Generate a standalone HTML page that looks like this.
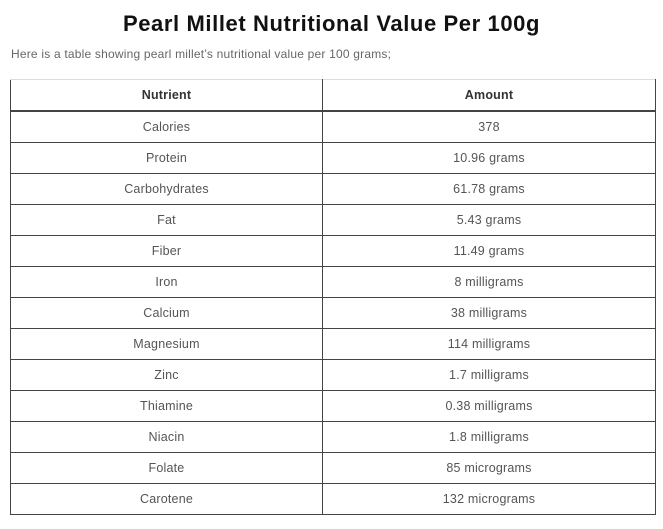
<!DOCTYPE html>
<html><head><meta charset="utf-8"><style>
body{margin:0;width:663px;height:529px;background:#fff;font-family:"Liberation Sans",sans-serif;position:relative;overflow:hidden}
h1{position:absolute;top:11px;left:0;width:663px;text-align:center;margin:0;font-size:22px;font-weight:bold;color:#111;letter-spacing:0.6px}
p{position:absolute;top:47px;left:11px;margin:0;font-size:12px;color:#666;letter-spacing:0.2px}
table{position:absolute;top:79px;left:10px;width:646px;border-collapse:collapse;font-size:12.5px;color:#555;letter-spacing:0.2px}
td,th{border:1px solid #444;text-align:center;height:30px;padding:0}
th{color:#333;font-weight:bold;border-top:1px solid #ddd;border-bottom:2px solid #444;height:30px}
</style></head><body>
<h1>Pearl Millet Nutritional Value Per 100g</h1>
<p>Here is a table showing pearl millet’s nutritional value per 100 grams;</p>
<table>
<tr><th style="width:311px">Nutrient</th><th>Amount</th></tr>
<tr><td>Calories</td><td>378</td></tr>
<tr><td>Protein</td><td>10.96 grams</td></tr>
<tr><td>Carbohydrates</td><td>61.78 grams</td></tr>
<tr><td>Fat</td><td>5.43 grams</td></tr>
<tr><td>Fiber</td><td>11.49 grams</td></tr>
<tr><td>Iron</td><td>8 milligrams</td></tr>
<tr><td>Calcium</td><td>38 milligrams</td></tr>
<tr><td>Magnesium</td><td>114 milligrams</td></tr>
<tr><td>Zinc</td><td>1.7 milligrams</td></tr>
<tr><td>Thiamine</td><td>0.38 milligrams</td></tr>
<tr><td>Niacin</td><td>1.8 milligrams</td></tr>
<tr><td>Folate</td><td>85 micrograms</td></tr>
<tr><td>Carotene</td><td>132 micrograms</td></tr>
</table>
</body></html>
